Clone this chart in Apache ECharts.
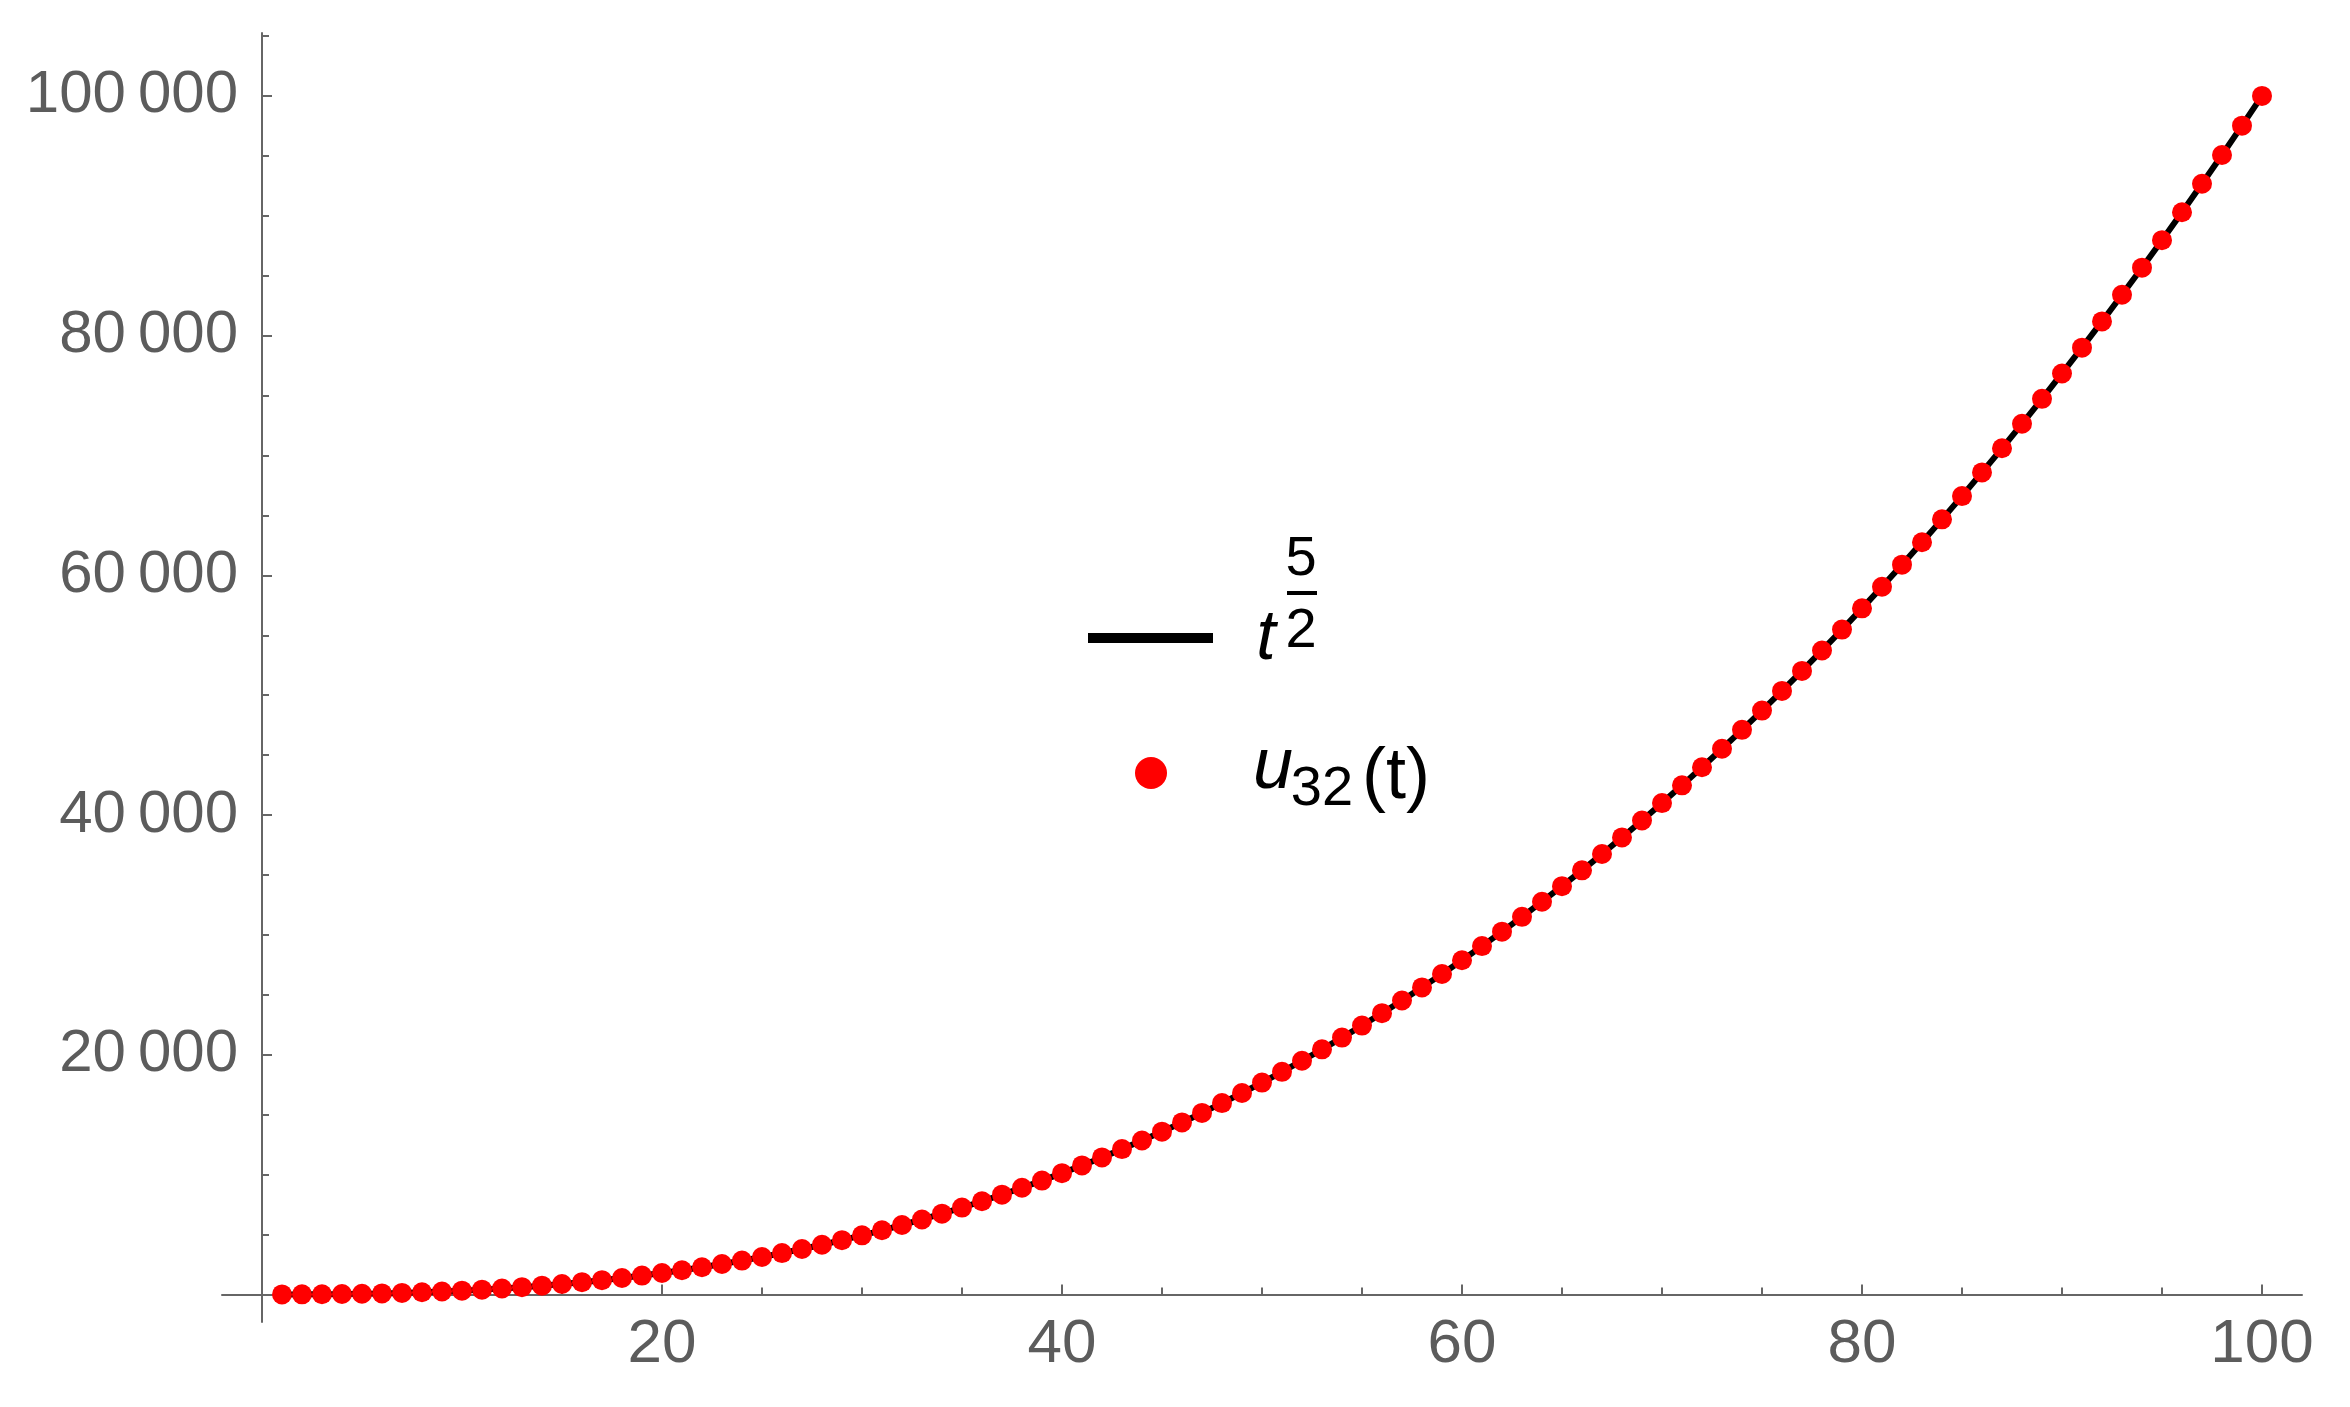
<!DOCTYPE html>
<html>
<head>
<meta charset="utf-8">
<script src="https://cdn.jsdelivr.net/npm/echarts@6/dist/echarts.min.js"></script>
<style>
  html, body { margin: 0; padding: 0; background: #fff; }
  #main { width: 2350px; height: 1407px; }
</style>
</head>
<body>
<div id="main"></div>
<script>
// t = 1 .. 100
const tValues = [
  1, 2, 3, 4, 5, 6, 7, 8, 9, 10, 11, 12, 13, 14, 15, 16, 17, 18, 19, 20,
  21, 22, 23, 24, 25, 26, 27, 28, 29, 30, 31, 32, 33, 34, 35, 36, 37, 38, 39, 40,
  41, 42, 43, 44, 45, 46, 47, 48, 49, 50, 51, 52, 53, 54, 55, 56, 57, 58, 59, 60,
  61, 62, 63, 64, 65, 66, 67, 68, 69, 70, 71, 72, 73, 74, 75, 76, 77, 78, 79, 80,
  81, 82, 83, 84, 85, 86, 87, 88, 89, 90, 91, 92, 93, 94, 95, 96, 97, 98, 99, 100
];
// black curve t^(5/2)
const curveValues = [
  1, 6, 16, 32, 56, 88, 130, 181, 243, 316,
  401, 499, 609, 733, 871, 1024, 1192, 1375, 1574, 1789,
  2021, 2270, 2537, 2822, 3125, 3447, 3788, 4149, 4529, 4930,
  5351, 5793, 6256, 6741, 7247, 7776, 8327, 8901, 9499, 10119,
  10764, 11432, 12125, 12842, 13584, 14351, 15144, 15963, 16807, 17678,
  18575, 19499, 20450, 21428, 22434, 23468, 24529, 25620, 26738, 27886,
  29062, 30268, 31503, 32768, 34063, 35388, 36744, 38131, 39548, 40996,
  42476, 43988, 45531, 47106, 48714, 50354, 52027, 53732, 55471, 57243,
  59049, 60888, 62761, 64669, 66611, 68588, 70599, 72645, 74727, 76843,
  78996, 81184, 83409, 85668, 87965, 90298, 92668, 95075, 97519, 100000
];
// red dots u32(t) - they sit on the curve
const u32Values = [
  1, 6, 16, 32, 56, 88, 130, 181, 243, 316,
  401, 499, 609, 733, 871, 1024, 1192, 1375, 1574, 1789,
  2021, 2270, 2537, 2822, 3125, 3447, 3788, 4149, 4529, 4930,
  5351, 5793, 6256, 6741, 7247, 7776, 8327, 8901, 9499, 10119,
  10764, 11432, 12125, 12842, 13584, 14351, 15144, 15963, 16807, 17678,
  18575, 19499, 20450, 21428, 22434, 23468, 24529, 25620, 26738, 27886,
  29062, 30268, 31503, 32768, 34063, 35388, 36744, 38131, 39548, 40996,
  42476, 43988, 45531, 47106, 48714, 50354, 52027, 53732, 55471, 57243,
  59049, 60888, 62761, 64669, 66611, 68588, 70599, 72645, 74727, 76843,
  78996, 81184, 83409, 85668, 87965, 90298, 92668, 95075, 97519, 100000
];

const xMajorTicks = [20, 40, 60, 80, 100];
const xTickLabels = ['20', '40', '60', '80', '100'];
const xMinorTicks = [5, 10, 15, 25, 30, 35, 45, 50, 55, 65, 70, 75, 85, 90, 95];
const yMajorTicks = [20000, 40000, 60000, 80000, 100000];
const yTickLabels = ['20\u2009000', '40\u2009000', '60\u2009000', '80\u2009000', '100\u2009000'];
const yMinorTicks = [5000, 10000, 15000, 25000, 30000, 35000, 45000, 50000, 55000,
  65000, 70000, 75000, 85000, 90000, 95000, 105000];

let myChart = echarts.init(document.getElementById('main'));

let axisGray = '#666666';
let labelGray = '#5c5c5c';
let font = '"Liberation Sans", Arial, sans-serif';

let curveData = [];
let dotData = [];
for (let i = 0; i < tValues.length; i++) {
  curveData.push([tValues[i], curveValues[i]]);
  dotData.push([tValues[i], u32Values[i]]);
}

let option = {
  animation: false,
  backgroundColor: '#fff',
  grid: { left: 222, right: 48, top: 33, bottom: 85, containLabel: false, outerBoundsMode: 'none' },
  xAxis: [
    {
      type: 'value', min: -2, max: 102, position: 'bottom',
      axisLine: { onZero: true, onZeroAxisIndex: 0, lineStyle: { color: axisGray, width: 2 } },
      axisTick: { inside: true, length: 10, customValues: xMajorTicks, lineStyle: { color: axisGray, width: 2 } },
      axisLabel: {
        customValues: xMajorTicks,
        formatter: v => xTickLabels[xMajorTicks.indexOf(v)],
        // labels sit at the grid edge, not at the zero line
        fontSize: 62, color: labelGray, fontFamily: font, margin: -8
      },
      splitLine: { show: false }
    },
    {
      type: 'value', min: -2, max: 102, position: 'bottom',
      axisLine: { onZero: true, onZeroAxisIndex: 0, lineStyle: { opacity: 0 } },
      axisTick: { inside: true, length: 7, customValues: xMinorTicks, lineStyle: { color: axisGray, width: 2 } },
      axisLabel: { show: false },
      splitLine: { show: false }
    }
  ],
  yAxis: [
    {
      type: 'value', min: -2300, max: 105250, position: 'left',
      axisLine: { onZero: true, onZeroAxisIndex: 0, lineStyle: { color: axisGray, width: 2 } },
      axisTick: { inside: true, length: 10, customValues: yMajorTicks, lineStyle: { color: axisGray, width: 2 } },
      axisLabel: {
        customValues: yMajorTicks,
        formatter: v => yTickLabels[yMajorTicks.indexOf(v)],
        fontSize: 60, color: labelGray, fontFamily: font, margin: -16
      },
      splitLine: { show: false }
    },
    {
      type: 'value', min: -2300, max: 105250, position: 'left',
      axisLine: { onZero: true, onZeroAxisIndex: 0, lineStyle: { opacity: 0 } },
      axisTick: { inside: true, length: 7, customValues: yMinorTicks, lineStyle: { color: axisGray, width: 2 } },
      axisLabel: { show: false },
      splitLine: { show: false }
    }
  ],
  series: [
    {
      name: 't^(5/2)',
      type: 'line',
      data: curveData,
      showSymbol: false,
      lineStyle: { color: '#000', width: 6 },
      z: 2
    },
    {
      name: 'u32(t)',
      type: 'scatter',
      data: dotData,
      symbolSize: 20,
      itemStyle: { color: '#ff0000', opacity: 1 },
      z: 3
    }
  ],
  // legend drawn by hand, like the Mathematica one
  graphic: [
    { type: 'line', shape: { x1: 1088, y1: 638, x2: 1213, y2: 638 }, style: { stroke: '#000', lineWidth: 10 } },
    { type: 'text', x: 1266, y: 640, style: { text: 't', fontSize: 70, fontStyle: 'italic', fontFamily: font, fill: '#000', textAlign: 'center', textVerticalAlign: 'middle' } },
    { type: 'text', x: 1301, y: 560, style: { text: '5', fontSize: 56, fontFamily: font, fill: '#000', textAlign: 'center', textVerticalAlign: 'middle' } },
    { type: 'line', shape: { x1: 1287, y1: 593, x2: 1317, y2: 593 }, style: { stroke: '#000', lineWidth: 4 } },
    { type: 'text', x: 1301, y: 632, style: { text: '2', fontSize: 56, fontFamily: font, fill: '#000', textAlign: 'center', textVerticalAlign: 'middle' } },
    { type: 'circle', shape: { cx: 1151, cy: 773, r: 16 }, style: { fill: '#ff0000' } },
    { type: 'text', x: 1273, y: 768, style: { text: 'u', fontSize: 72, fontStyle: 'italic', fontFamily: font, fill: '#000', textAlign: 'center', textVerticalAlign: 'middle' } },
    { type: 'text', x: 1322, y: 790, style: { text: '32', fontSize: 56, fontFamily: font, fill: '#000', textAlign: 'center', textVerticalAlign: 'middle' } },
    { type: 'text', x: 1396, y: 778, style: { text: '(t)', fontSize: 72, fontFamily: font, fill: '#000', textAlign: 'center', textVerticalAlign: 'middle' } }
  ]
};

myChart.setOption(option);
</script>
</body>
</html>
